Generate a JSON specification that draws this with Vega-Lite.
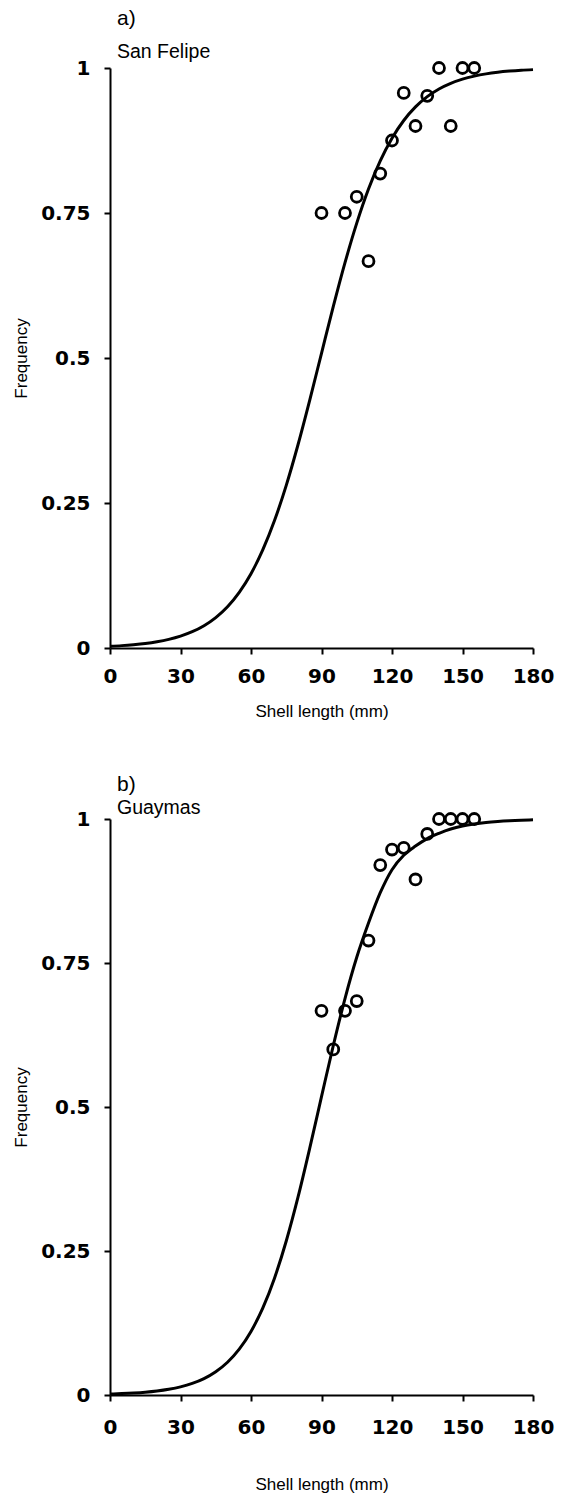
{
  "$schema": "https://vega.github.io/schema/vega-lite/v6.json",
  "background": "white",
  "padding": {"left": 12, "top": 8, "right": 10, "bottom": 5},
  "spacing": 55,
  "datasets": {
    "curveA": [
      {"length": 0, "freq": 0.003}, {"length": 5, "freq": 0.0041}, {"length": 10, "freq": 0.0057},
      {"length": 15, "freq": 0.0078}, {"length": 20, "freq": 0.0108}, {"length": 25, "freq": 0.0149},
      {"length": 30, "freq": 0.0205}, {"length": 35, "freq": 0.0281}, {"length": 40, "freq": 0.0385},
      {"length": 45, "freq": 0.0525}, {"length": 50, "freq": 0.0712}, {"length": 55, "freq": 0.096},
      {"length": 60, "freq": 0.1281}, {"length": 65, "freq": 0.169}, {"length": 70, "freq": 0.2197},
      {"length": 75, "freq": 0.2804}, {"length": 80, "freq": 0.3504}, {"length": 85, "freq": 0.4274},
      {"length": 90, "freq": 0.5081}, {"length": 95, "freq": 0.5884}, {"length": 100, "freq": 0.6643},
      {"length": 105, "freq": 0.7325}, {"length": 110, "freq": 0.7913}, {"length": 115, "freq": 0.8399},
      {"length": 120, "freq": 0.879}, {"length": 125, "freq": 0.9095}, {"length": 130, "freq": 0.9329},
      {"length": 135, "freq": 0.9506}, {"length": 140, "freq": 0.9639}, {"length": 145, "freq": 0.9736},
      {"length": 150, "freq": 0.9808}, {"length": 155, "freq": 0.986}, {"length": 160, "freq": 0.9899},
      {"length": 165, "freq": 0.9927}, {"length": 170, "freq": 0.9947}, {"length": 175, "freq": 0.9962},
      {"length": 180, "freq": 0.9972}
    ],
    "pointsA": [
      {"length": 90, "freq": 0.75}, {"length": 100, "freq": 0.75}, {"length": 105, "freq": 0.778},
      {"length": 110, "freq": 0.667}, {"length": 115, "freq": 0.818}, {"length": 120, "freq": 0.875},
      {"length": 125, "freq": 0.957}, {"length": 130, "freq": 0.9}, {"length": 135, "freq": 0.952},
      {"length": 140, "freq": 1}, {"length": 145, "freq": 0.9}, {"length": 150, "freq": 1},
      {"length": 155, "freq": 1}
    ],
    "curveB": [
      {"length": 0, "freq": 0.0017}, {"length": 5, "freq": 0.0024}, {"length": 10, "freq": 0.0034},
      {"length": 15, "freq": 0.0048}, {"length": 20, "freq": 0.0069}, {"length": 25, "freq": 0.0099},
      {"length": 30, "freq": 0.0141}, {"length": 35, "freq": 0.0201}, {"length": 40, "freq": 0.0285},
      {"length": 45, "freq": 0.0404}, {"length": 50, "freq": 0.0569}, {"length": 55, "freq": 0.0796},
      {"length": 60, "freq": 0.1103}, {"length": 65, "freq": 0.1508}, {"length": 70, "freq": 0.2029},
      {"length": 75, "freq": 0.2674}, {"length": 80, "freq": 0.3434}, {"length": 85, "freq": 0.4285},
      {"length": 90, "freq": 0.518}, {"length": 95, "freq": 0.6064}, {"length": 100, "freq": 0.6883},
      {"length": 105, "freq": 0.7599}, {"length": 110, "freq": 0.8193}, {"length": 115, "freq": 0.872},
      {"length": 120, "freq": 0.912}, {"length": 125, "freq": 0.937}, {"length": 130, "freq": 0.953},
      {"length": 135, "freq": 0.966}, {"length": 140, "freq": 0.9752}, {"length": 145, "freq": 0.9826},
      {"length": 150, "freq": 0.9878}, {"length": 155, "freq": 0.9914}, {"length": 160, "freq": 0.994},
      {"length": 165, "freq": 0.9958}, {"length": 170, "freq": 0.9971}, {"length": 175, "freq": 0.998},
      {"length": 180, "freq": 0.9986}
    ],
    "pointsB": [
      {"length": 90, "freq": 0.667}, {"length": 95, "freq": 0.6}, {"length": 100, "freq": 0.667},
      {"length": 105, "freq": 0.684}, {"length": 110, "freq": 0.789}, {"length": 115, "freq": 0.92},
      {"length": 120, "freq": 0.947}, {"length": 125, "freq": 0.95}, {"length": 130, "freq": 0.895},
      {"length": 135, "freq": 0.974}, {"length": 140, "freq": 1}, {"length": 145, "freq": 1},
      {"length": 150, "freq": 1}, {"length": 155, "freq": 1}
    ]
  },
  "config": {
    "view": {"stroke": null},
    "axis": {
      "grid": false,
      "domainColor": "black",
      "domainWidth": 2,
      "tickColor": "black",
      "tickWidth": 2,
      "tickSize": 6,
      "labelFont": "DejaVu Sans",
      "labelFontWeight": "bold",
      "labelFontSize": 20,
      "labelColor": "black",
      "labelFlush": false,
      "titleFont": "Liberation Sans",
      "titleFontWeight": "normal",
      "titleFontSize": 17,
      "titleColor": "black"
    },
    "title": {
      "anchor": "start",
      "frame": "group",
      "font": "Liberation Sans",
      "fontWeight": "normal",
      "fontSize": 21,
      "color": "black",
      "subtitleFont": "Liberation Sans",
      "subtitleFontSize": 19.5,
      "subtitleColor": "black",
      "dx": 7
    }
  },
  "vconcat": [
    {
      "width": 423,
      "height": 580,
      "title": {"text": "a)", "subtitle": "San Felipe", "subtitlePadding": 14, "offset": -5},
      "layer": [
        {
          "data": {"name": "curveA"},
          "mark": {"type": "line", "color": "black", "strokeWidth": 3, "interpolate": "monotone"},
          "encoding": {
            "x": {"field": "length", "type": "quantitative", "scale": {"domain": [0, 180], "nice": false},
                  "axis": {"values": [0, 30, 60, 90, 120, 150, 180], "title": "Shell length (mm)", "labelPadding": 12, "titlePadding": 17}},
            "y": {"field": "freq", "type": "quantitative", "scale": {"domain": [0, 1], "nice": false},
                  "axis": {"values": [0, 0.25, 0.5, 0.75, 1], "format": ".2~f", "title": "Frequency", "labelPadding": 14, "titlePadding": 10}}
          }
        },
        {
          "data": {"name": "pointsA"},
          "mark": {"type": "point", "shape": "circle", "filled": false, "color": "black", "strokeWidth": 2.8, "size": 120, "opacity": 1},
          "encoding": {
            "x": {"field": "length", "type": "quantitative"},
            "y": {"field": "freq", "type": "quantitative"}
          }
        }
      ]
    },
    {
      "width": 423,
      "height": 576,
      "title": {"text": "b)", "subtitle": "Guaymas", "subtitlePadding": 4, "offset": -10},
      "layer": [
        {
          "data": {"name": "curveB"},
          "mark": {"type": "line", "color": "black", "strokeWidth": 3, "interpolate": "monotone"},
          "encoding": {
            "x": {"field": "length", "type": "quantitative", "scale": {"domain": [0, 180], "nice": false},
                  "axis": {"values": [0, 30, 60, 90, 120, 150, 180], "title": "Shell length (mm)", "labelPadding": 16, "titlePadding": 39}},
            "y": {"field": "freq", "type": "quantitative", "scale": {"domain": [0, 1], "nice": false},
                  "axis": {"values": [0, 0.25, 0.5, 0.75, 1], "format": ".2~f", "title": "Frequency", "labelPadding": 14, "titlePadding": 10}}
          }
        },
        {
          "data": {"name": "pointsB"},
          "mark": {"type": "point", "shape": "circle", "filled": false, "color": "black", "strokeWidth": 2.8, "size": 120, "opacity": 1},
          "encoding": {
            "x": {"field": "length", "type": "quantitative"},
            "y": {"field": "freq", "type": "quantitative"}
          }
        }
      ]
    }
  ]
}
